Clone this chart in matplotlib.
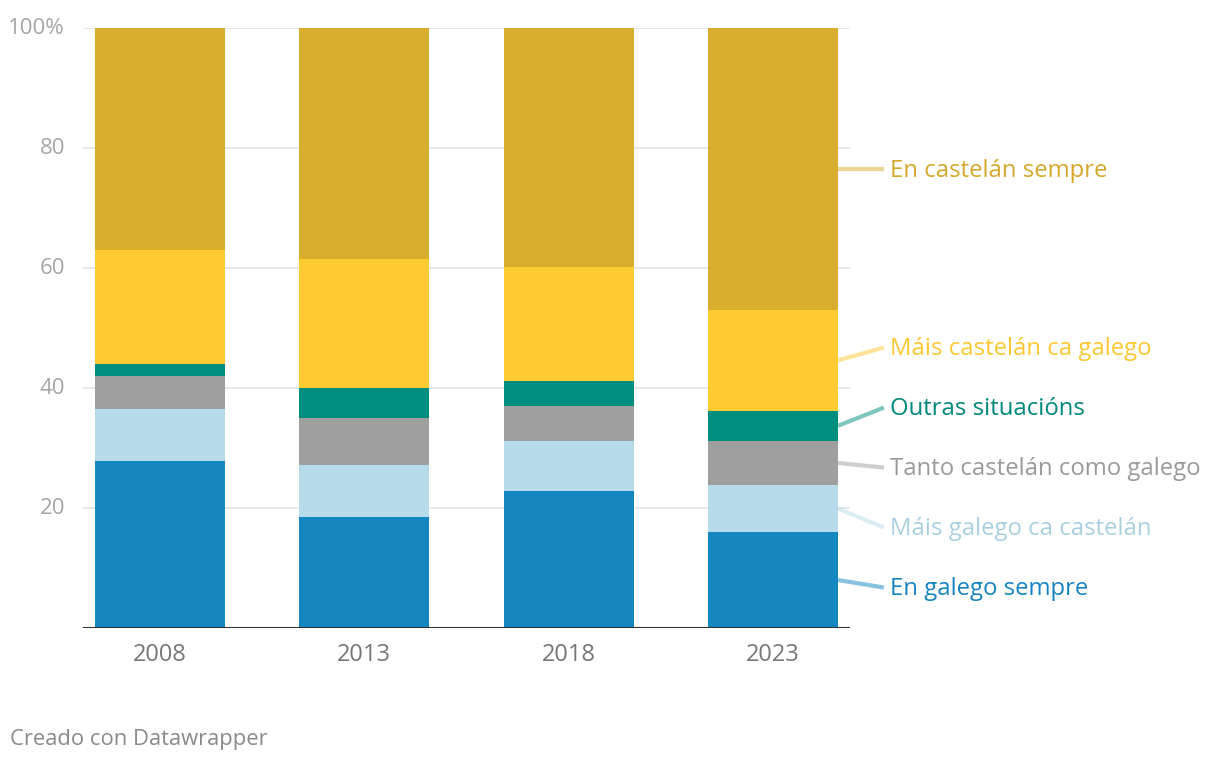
import numpy as np
import matplotlib.pyplot as plt

plt.rcParams['font.family'] = ['Open Sans', 'DejaVu Sans']

years = ['2008', '2013', '2018', '2023']
series = ['En galego sempre', 'Máis galego ca castelán', 'Tanto castelán como galego',
          'Outras situacións', 'Máis castelán ca galego', 'En castelán sempre']
galego_sempre = [27.8, 18.5, 22.8, 16.0]
mais_galego = [8.7, 8.7, 8.4, 7.8]
tanto = [5.5, 7.8, 5.8, 7.4]
outras = [2.0, 5.0, 4.2, 5.0]
mais_castelan = [19.0, 21.5, 19.0, 16.8]
castelan_sempre = [37.0, 38.5, 39.8, 47.0]

values = [galego_sempre, mais_galego, tanto, outras, mais_castelan, castelan_sempre]
colors = ['#1487c0', '#b7dbea', '#9f9f9f', '#008e7e', '#fecb33', '#d9ad2d']
text_colors = ['#1683c0', '#a9d0e1', '#9a9a9a', '#00887a', '#fbc832', '#d5a72b']


def spread(centers, gap):
    # simple label de-overlap: merge clusters and center them
    order = sorted(range(len(centers)), key=lambda i: centers[i])
    pos = {}
    changed = True
    groups = [[i] for i in order]
    while changed:
        changed = False
        new = [groups[0]]
        for g in groups[1:]:
            prev = new[-1]
            pm = np.mean([centers[i] for i in prev]) + gap * (len(prev) - 1) / 2
            gm = np.mean([centers[i] for i in g]) - gap * (len(g) - 1) / 2
            if gm - pm < gap:
                new[-1] = prev + g
                changed = True
            else:
                new.append(g)
        groups = new
    for g in groups:
        m = np.mean([centers[i] for i in g])
        for k, i in enumerate(g):
            pos[i] = m + gap * (k - (len(g) - 1) / 2)
    return [pos[i] for i in range(len(centers))]


fig = plt.figure(figsize=(12.2, 7.62), dpi=100)
ax = fig.add_axes([83 / 1220, 1 - 628 / 762, 767 / 1220, 600 / 762])

x = np.arange(len(years))
width = 0.636
bottom = np.zeros(len(years))
for vals, c in zip(values, colors):
    ax.bar(x, vals, width, bottom=bottom, color=c, zorder=2, linewidth=0)
    bottom += np.array(vals)

ax.set_xlim(-0.377, 3.377)
ax.set_ylim(0, 100)
for yv in [20, 40, 60, 80, 100]:
    ax.axhline(yv, color='#e6e6e6', lw=1.3, zorder=1)
ax.axhline(0, color='#333333', lw=1.5, zorder=3)

for s in ax.spines.values():
    s.set_visible(False)
ax.set_yticks([20, 40, 60, 80, 100])
ax.set_yticklabels(['20', '40', '60', '80', '100%'])
ax.set_xticks(x)
ax.set_xticklabels(years)
ax.tick_params(axis='y', length=0, pad=13, labelsize=16, labelcolor='#a6a6a6')
ax.tick_params(axis='x', length=0, pad=11, labelsize=17, labelcolor='#777777')
for lab in ax.get_yticklabels():
    lab.set_verticalalignment('center')

# direct labels for last bar
last = [v[-1] for v in values]
cum = np.cumsum(last)
centers = list(cum - np.array(last) / 2)
label_y = spread(centers, 10)
edge = x[-1] + width / 2
for i, name in enumerate(series):
    ax.plot([edge, edge + 0.225], [centers[i], label_y[i]], color=colors[i],
            alpha=0.5, lw=3, solid_capstyle='butt', clip_on=False, zorder=4)
    ax.text(edge + 0.255, label_y[i] - 0.3, name, color=text_colors[i], fontsize=17.2,
            va='center', ha='left')

fig.text(10 / 1220, 1 - 739 / 762, 'Creado con Datawrapper', color='#8a8a8a',
         fontsize=15.8, va='center', ha='left')

fig.savefig('out.png', dpi=100)
